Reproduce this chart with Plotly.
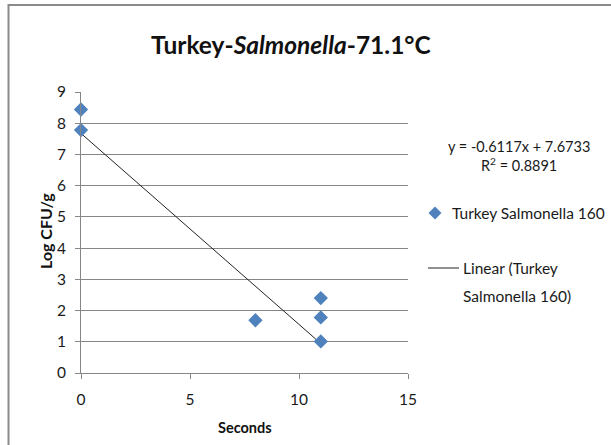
import plotly.graph_objects as go

# Survival data: time (s) vs log CFU/g
seconds = [0, 0, 8, 11, 11, 11]
log_cfu = [8.44, 7.78, 1.69, 2.40, 1.78, 1.01]

# Linear trendline reported for the series
slope = -0.6117
intercept = 7.6733
r_squared = 0.8891

series_name = "Turkey Salmonella 160"
x_ticks = [0, 5, 10, 15]
y_ticks = list(range(0, 10))

W, H = 611, 445
L, R, T, B = 81, 203, 92, 72
pw, ph = W - L - R, H - T - B


def px(x):
    return (x - L) / pw


def py(y):
    return (H - B - y) / ph


FONT = "Lato"
blue = "#4F81BD"
grid = "#868686"
ink = "#1a1a1a"

trend_x = [min(seconds), max(seconds)]
trend_y = [slope * v + intercept for v in trend_x]

fig = go.Figure()
fig.add_trace(go.Scatter(
    x=trend_x, y=trend_y, mode="lines",
    line=dict(color="#222222", width=1), showlegend=False, hoverinfo="skip"))
fig.add_trace(go.Scatter(
    x=seconds, y=log_cfu, mode="markers", name=series_name,
    marker=dict(symbol="diamond", size=11, color=blue,
                line=dict(width=0)), showlegend=False, cliponaxis=False))

shapes = [
    # chart frame
    dict(type="rect", xref="paper", yref="paper",
         x0=px(8.5), x1=px(640), y0=py(470), y1=py(5),
         line=dict(color="#8a8a8a", width=2), layer="below"),
    # legend: line glyph
    dict(type="line", xref="paper", yref="paper",
         x0=px(428), x1=px(459), y0=py(268), y1=py(268),
         line=dict(color="#222222", width=1)),
    # legend: diamond glyph
    dict(type="path", xref="paper", yref="paper",
         path="M {a},{b} L {c},{d} L {a},{e} L {f},{d} Z".format(
             a=px(435), b=py(206.5), c=px(441.5), d=py(213), e=py(219.5), f=px(428.5)),
         fillcolor=blue, line=dict(width=0)),
]

ann = [
    dict(text="<b>Turkey-<i>Salmonella</i>-71.1°C</b>", x=px(291), y=py(45),
         font=dict(family=FONT, size=24.5, color="#111111")),
    dict(text="<b>Log CFU/g</b>", x=px(45), y=py(231), textangle=-90,
         font=dict(family=FONT, size=16, color="#111111")),
    dict(text="<b>Seconds</b>", x=px(245), y=py(427),
         font=dict(family=FONT, size=14.5, color="#111111")),
    dict(text=f"y = {slope}x + {intercept}", x=px(519), y=py(146),
         font=dict(family=FONT, size=14.5, color=ink)),
    dict(text=f"R<sup>2</sup> = {r_squared}", x=px(519), y=py(164),
         font=dict(family=FONT, size=14.5, color=ink)),
    dict(text=series_name, x=px(450), y=py(213), xanchor="left",
         font=dict(family=FONT, size=15.5, color=ink)),
    dict(text="Linear (Turkey", x=px(461), y=py(268), xanchor="left",
         font=dict(family=FONT, size=15.5, color=ink)),
    dict(text="Salmonella 160)", x=px(461), y=py(296), xanchor="left",
         font=dict(family=FONT, size=15.5, color=ink)),
]
for a in ann:
    a.update(xref="paper", yref="paper", showarrow=False)
    a.setdefault("xanchor", "center")
    a.setdefault("yanchor", "middle")

fig.update_layout(
    width=W, height=H,
    margin=dict(l=L, r=R, t=T, b=B),
    paper_bgcolor="white", plot_bgcolor="white",
    font=dict(family=FONT, size=15, color=ink),
    shapes=shapes, annotations=ann,
    xaxis=dict(range=[0, 15], tickvals=x_ticks, showgrid=False,
               showline=True, linecolor=grid, linewidth=1,
               ticks="outside", ticklen=5, tickcolor=grid,
               ticklabelstandoff=7,
               zeroline=False, tickfont=dict(size=15.5, color=ink)),
    yaxis=dict(range=[0, 9], tickvals=y_ticks, showgrid=True,
               gridcolor=grid, gridwidth=1,
               showline=True, linecolor=grid, linewidth=1,
               ticks="outside", ticklen=5, tickcolor=grid,
               ticklabelstandoff=6,
               zeroline=False, tickfont=dict(size=15.5, color=ink)),
)

fig.write_html("out.html")
